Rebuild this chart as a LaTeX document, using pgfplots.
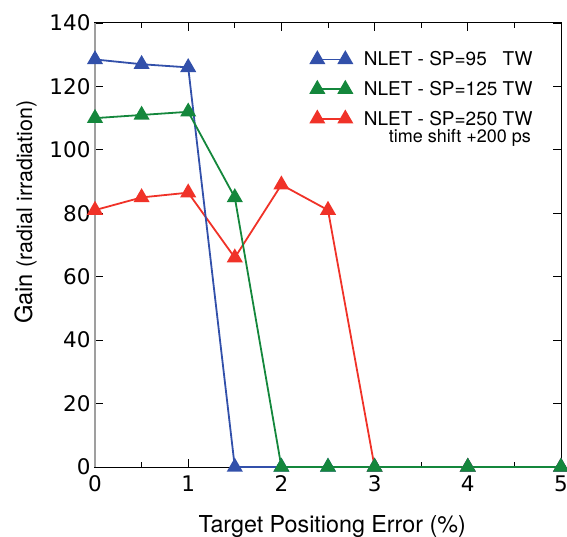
\documentclass[border=0pt]{standalone}
\usepackage{fontspec}
\setmainfont{TeX Gyre Heros}
\newfontfamily\dejavu{DejaVu Sans}
\usepackage{pgfplots}
\pgfplotsset{compat=1.18}
\definecolor{cblue}{RGB}{50,80,170}
\definecolor{cgreen}{RGB}{20,135,60}
\definecolor{cred}{RGB}{240,50,40}
\begin{document}
\begin{tikzpicture}
\useasboundingbox (-95bp,-70bp) rectangle (472bp,467bp);
\begin{axis}[at={(0,0)}, anchor=south west,
  scale only axis, width=466bp, height=444bp,
  xmin=0, xmax=5, ymin=0, ymax=140,
  clip=false,
  xtick={0,1,2,3,4,5}, minor xtick={0.5,1.5,2.5,3.5,4.5},
  ytick={0,20,40,60,80,100,120,140},
  tick align=inside, major tick length=8bp, minor tick length=5bp,
  tick style={black, line width=0.8bp},
  axis line style={black, line width=1bp},
  ticklabel style={font=\dejavu\fontsize{21.5bp}{24bp}\selectfont},
  xticklabel style={yshift=-5bp},
  yticklabel style={xshift=-1bp},
  /pgf/number format/assume math mode=true,
  xlabel={Target Positiong Error (\%)},
  xlabel style={font=\fontsize{23.3bp}{26bp}\selectfont, at={(axis description cs:0.509,-0.1486)}, anchor=base},
  ylabel={\fontsize{23.7bp}{26bp}\selectfont Gain \fontsize{21.5bp}{24bp}\selectfont(radial irradiation)},
  ylabel style={at={(axis description cs:-0.135,0.574)}, anchor=base, rotate=0},
  legend style={draw=none, fill=none, at={(axis description cs:0.95,0.945)}, anchor=north east,
    font=\fontsize{19bp}{22bp}\selectfont, row sep=10bp, cells={anchor=west},
    /tikz/every odd column/.append style={column sep=10bp}},
  legend image code/.code={\draw[#1] plot coordinates {(0bp,0bp) (28bp,0bp)};},
  every axis plot/.append style={line width=1.8bp, mark=triangle*, mark size=7.5bp,
    mark options={draw=black, line width=0.7bp, solid}},
]
\draw[gray!75, line width=2.2bp] (rel axis cs:0,0) -- (rel axis cs:0,1);
\addplot[color=cred, mark options={fill=cred}, forget plot] coordinates {
  (0,81) (0.5,85) (1,86.5) (1.5,66) (2,89) (2.5,81) (3,0) (4,0) (5,0)};
\addplot[color=cblue, mark options={fill=cblue}] coordinates {
  (0,128.5) (0.5,127) (1,126) (1.5,0) (2,0) (2.5,0) (3,0) (4,0) (5,0)};
\addlegendentry{NLET - SP=95\hphantom{0} TW}
\addplot[color=cgreen, mark options={fill=cgreen}] coordinates {
  (0,110) (0.5,111) (1,112) (1.5,85) (2,0) (2.5,0) (3,0) (4,0) (5,0)};
\addlegendentry{NLET - SP=125 TW}
\addlegendimage{color=cred, mark options={fill=cred}}
\addlegendentry{NLET - SP=250 TW}
\node[anchor=east, font=\fontsize{18bp}{20bp}\selectfont, inner sep=0pt] at (axis description cs:0.936,0.742) {time shift +200 ps};
\end{axis}
\end{tikzpicture}
\end{document}
